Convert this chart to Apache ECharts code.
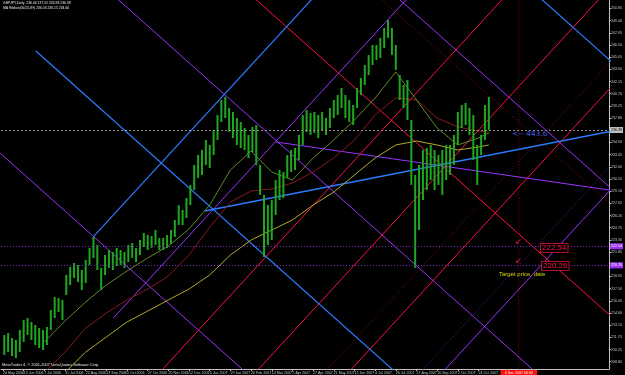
<!DOCTYPE html>
<html>
<head>
<meta charset="utf-8">
<title>GBPJPY Daily</title>
<script src="https://cdn.jsdelivr.net/npm/echarts@6/dist/echarts.min.js"></script>
<style>
html, body { margin: 0; padding: 0; background: #000; }
#chart { width: 625px; height: 375px; }
</style>
</head>
<body>
<div id="chart"></div>
<script>
// price bars, one entry per 3 daily bars (slot k sits on bar 3k+1)
var barHigh = [211.98, 212.22, 211.62, 211.38, 212.57, 213.76, 214.00, 213.53, 213.17, 212.81, 212.57, 212.93,
  214.95, 216.50, 216.38, 216.15, 219.12, 220.07, 220.55, 220.31, 219.72, 220.91, 222.34, 223.65,
  222.69, 219.96, 221.50, 222.10, 221.86, 222.34, 222.10, 221.86, 222.69, 222.93, 222.34, 223.29,
  224.12, 223.88, 223.76, 224.48, 223.53, 223.53, 223.88, 224.48, 225.67, 227.45, 226.86, 228.29,
  229.84, 232.22, 233.41, 234.00, 235.19, 234.60, 236.38, 238.17, 239.96, 240.31, 239.00, 238.53,
  237.81, 237.34, 236.62, 235.79, 236.74, 236.98, 232.22, 228.65, 227.45, 228.05, 230.43, 231.62,
  231.38, 233.41, 234.00, 234.24, 235.79, 238.17, 238.76, 238.41, 238.53, 238.17, 238.53, 237.81,
  239.00, 239.96, 240.55, 241.38, 240.55, 239.96, 239.36, 241.38, 242.57, 244.12, 245.31, 246.50,
  246.50, 247.34, 248.53, 249.48, 248.53, 246.50, 242.93, 241.74, 242.34, 237.57, 231.03, 232.22,
  234.00, 234.24, 234.60, 234.00, 233.41, 234.00, 234.60, 234.60, 235.79, 238.53, 239.36, 239.60,
  239.00, 238.17, 234.60, 235.79, 239.36, 240.31];
var barLow = [209.60, 209.96, 209.48, 209.24, 209.96, 211.15, 211.98, 211.38, 210.79, 210.43, 210.19, 210.79,
  212.57, 214.00, 214.72, 213.76, 216.74, 217.93, 218.76, 218.29, 217.34, 218.17, 220.31, 221.15,
  219.72, 217.34, 219.12, 219.96, 219.72, 220.19, 220.31, 219.96, 220.67, 221.15, 220.67, 221.50,
  222.46, 222.10, 222.34, 222.69, 222.10, 222.10, 222.34, 222.81, 223.65, 225.07, 225.07, 225.91,
  227.45, 229.24, 230.67, 231.03, 232.22, 231.86, 233.41, 235.19, 237.34, 237.81, 236.15, 235.43,
  234.60, 234.24, 234.00, 233.05, 233.76, 232.22, 228.65, 221.26, 222.69, 223.29, 226.26, 228.05,
  228.29, 230.67, 231.38, 231.62, 232.81, 234.60, 236.15, 235.79, 236.03, 235.43, 236.38, 235.79,
  236.62, 237.81, 238.17, 239.00, 237.81, 237.34, 236.98, 239.00, 240.55, 241.74, 242.93, 244.12,
  244.72, 244.96, 246.15, 247.34, 245.31, 243.53, 239.96, 239.00, 237.57, 229.84, 219.96, 224.48,
  228.05, 229.24, 230.43, 229.24, 229.84, 228.65, 230.43, 231.03, 232.22, 234.60, 236.62, 236.98,
  235.79, 232.81, 229.84, 233.41, 235.19, 236.38];

// moving averages, read every 16 bars
var maBar = [0, 16, 32, 48, 64, 80, 96, 112, 128, 144, 160, 176, 192, 208, 224, 240, 256, 272, 288, 304, 320, 336, 352, 368, 376];
var maFast = [null, null, 211.14, 213.64, 215.91, 217.93, 219.60, 221.15, 222.57, 224.60, 227.45, 231.62, 233.88,
  231.38, 230.43, 233.05, 235.19, 237.57, 240.19, 243.29, 239.96, 236.62, 234.60, 235.43, 236.03];
var maMid = [null, null, 207.5, 209.95, 212.81, 214.60, 216.15, 217.45, 219.00, 221.50, 224.80, 227.81, 229.12,
  229.36, 230.07, 231.38, 233.05, 235.19, 238.17, 240.19, 239.96, 237.81, 236.74, 236.26, 236.15];
var maSlow = [null, null, null, 207.5, 209.95, 211.74, 213.53, 214.83, 216.15, 217.45, 219.12, 221.50, 223.29,
  224.48, 225.67, 227.45, 229.00, 231.03, 233.05, 234.60, 235.07, 234.60, 234.00, 234.36, 234.60];

// date labels every 16 bars
var dateLabels = ['24 May 2006', '15 Jun 2006', '7 Jul 2006', '31 Jul 2006', '22 Aug 2006', '13 Sep 2006',
  '5 Oct 2006', '27 Oct 2006', '20 Nov 2006', '12 Dec 2006', '5 Jan 2007', '29 Jan 2007', '20 Feb 2007',
  '14 Mar 2007', '5 Apr 2007', '27 Apr 2007', '21 May 2007', '12 Jun 2007', '4 Jul 2007', '26 Jul 2007',
  '17 Aug 2007', '10 Sep 2007', '2 Oct 2007', '24 Oct 2007'];
var priceTicks = [208.80, 210.25, 211.70, 213.15, 214.60, 216.05, 217.50, 218.95, 220.40, 221.85, 223.30,
  224.75, 226.20, 227.65, 229.10, 230.55, 232.00, 233.45, 234.90, 236.35, 237.80, 239.25, 240.70, 242.15,
  243.60, 245.05, 246.50, 247.95, 249.40, 250.85];

// gann grid lines, [bar, price] -> [bar, price]
var blueLines = [
  [[25.4, 245.79], [306.2, 207.22]],
  [[70.0, 223.69], [252.3, 254.17]],
  [[398.5, 254.46], [490.8, 241.78]]
];
var blueBase = [[156.2, 226.74], [490.8, 236.84]];
var purpleLines = [
  [[75.4, 253.80], [429.2, 205.23]],
  [[-9.2, 234.59], [198.5, 206.07]],
  [[290.8, 254.12], [490.8, 226.66]],
  [[85.4, 214.00], [321.5, 253.48]],
  [[336.9, 207.00], [490.8, 232.72]],
  [[211.5, 234.95], [490.8, 228.76]]
];
var redLines = [
  [[183.1, 253.66], [490.8, 211.42]],
  [[115.9, 206.62], [398.5, 253.96]],
  [[190.8, 206.74], [475.4, 254.31]],
  [[260.0, 206.29], [490.8, 244.86]]
];
var dotRedLines = [
  [[244.6, 206.81], [490.8, 247.95]],
  [[283.1, 253.26], [490.8, 224.75]],
  [[399.2, 253.00], [399.2, 206.00]]
];
var dotPurpleLines = [
  [[321.5, 207.29], [490.8, 235.57]]
];

var lastPrice = 236.38;
var targetPrices = [222.54, 220.26];
var targetBar = 399.2;
var targetDate = '6 Dec 2007 00:00';

var chart = echarts.init(document.getElementById('chart'), null, { renderer: 'canvas' });

var tiny = { fontFamily: 'Liberation Sans', fontSize: 3.6, color: '#c8c8c8' };

function segSeries(list, color, type, width) {
  return list.map(function (seg) {
    return {
      type: 'line', data: seg, symbol: 'none', silent: true, clip: true, z: 2,
      lineStyle: { color: color, width: width || 1, type: type }
    };
  });
}

function renderBar(params, api) {
  var x = api.value(0);
  var lo = api.coord([x, api.value(1)]);
  var hi = api.coord([x, api.value(2)]);
  return {
    type: 'rect',
    shape: { x: lo[0] - 1, y: hi[1], width: 2, height: Math.max(1, lo[1] - hi[1]) },
    style: { fill: '#1fa81f' }
  };
}

var barData = barHigh.map(function (h, k) { return [3 * k + 1, barLow[k], h]; });

function maData(arr) {
  return arr.map(function (v, j) { return [maBar[j], v]; });
}

var boxLabel = function (text, bg, fg) {
  return { position: 'end', formatter: text, backgroundColor: bg, color: fg,
    fontSize: 3.6, fontFamily: 'Liberation Sans', padding: [1, 1], distance: 1 };
};

var series = [];
series = series.concat(segSeries(dotRedLines, '#8b0a14', [1, 2]));
series = series.concat(segSeries(dotPurpleLines, '#5a1a9a', [1, 2]));
series.push({
  type: 'line', data: [], symbol: 'none', silent: true,
  markLine: {
    symbol: 'none', silent: true,
    data: [
      { yAxis: lastPrice, lineStyle: { color: '#8c8c8c', type: [2, 2], width: 1 },
        label: boxLabel(lastPrice.toFixed(2), '#c0c0c0', '#000') },
      { yAxis: targetPrices[0], lineStyle: { color: '#7a2ad0', type: [1, 2], width: 1 },
        label: boxLabel(targetPrices[0].toFixed(2), '#9a30f0', '#fff') },
      { yAxis: targetPrices[1], lineStyle: { color: '#7a2ad0', type: [1, 2], width: 1 },
        label: boxLabel(targetPrices[1].toFixed(2), '#9a30f0', '#fff') },
      { xAxis: targetBar, lineStyle: { color: 'rgba(0,0,0,0)', width: 0 },
        label: { position: 'start', formatter: targetDate, backgroundColor: '#ff1010', color: '#fff',
          fontSize: 3.6, fontFamily: 'Liberation Sans', padding: [1, 4], distance: 1 } }
    ]
  }
});
series.push({ type: 'line', data: maData(maSlow), symbol: 'none', silent: true, z: 3, lineStyle: { color: '#b0aa2a', width: 1 } });
series.push({ type: 'line', data: maData(maMid), symbol: 'none', silent: true, z: 3, lineStyle: { color: '#8a1818', width: 1 } });
series.push({ type: 'line', data: maData(maFast), symbol: 'none', silent: true, z: 3, lineStyle: { color: '#5d8a2a', width: 1 } });
series.push({ type: 'custom', data: barData, renderItem: renderBar, clip: true, silent: true, z: 4 });
series = series.concat(segSeries(purpleLines, '#9933ff', 'solid'));
series = series.concat(segSeries(redLines, '#ff1040', 'solid'));
series = series.concat(segSeries(blueLines, '#2a7cff', 'solid', 1.2));
series = series.concat(segSeries([blueBase], '#2a7cff', 'solid', 1.6));

var tickBars = dateLabels.map(function (d, n) { return n * 16; });

var option = {
  backgroundColor: '#000',
  animation: false,
  grid: { left: 0, top: 0, right: 13, bottom: 6 },
  xAxis: {
    type: 'value', min: -1.5, max: 469,
    axisLine: { show: true, onZero: false, lineStyle: { color: '#c0c0c0', width: 1 } },
    axisTick: { show: true, length: 2, lineStyle: { color: '#c0c0c0' }, customValues: tickBars },
    axisLabel: Object.assign({}, tiny, {
      align: 'left', margin: 1.5,
      customValues: tickBars,
      formatter: function (v) { return dateLabels[Math.round(v / 16)] || ''; }
    }),
    splitLine: { show: false }
  },
  yAxis: {
    type: 'value', position: 'right', min: 207.93, max: 251.86,
    axisLine: { show: true, onZero: false, lineStyle: { color: '#c0c0c0', width: 1 } },
    axisTick: { show: true, length: 2, lineStyle: { color: '#c0c0c0' }, customValues: priceTicks },
    axisLabel: Object.assign({}, tiny, {
      margin: 2, customValues: priceTicks,
      formatter: function (v) { return v.toFixed(2); }
    }),
    splitLine: { show: false }
  },
  graphic: [
    { type: 'text', left: 3, top: 2, style: { text: 'GBPJPY,Daily  236.64 237.52 235.98 236.38', fill: '#e8e8e8', fontSize: 3.4, fontFamily: 'Liberation Sans' } },
    { type: 'text', left: 3, top: 6.5, style: { text: 'MA Ribbon(34,55,89) 236.03 236.15 234.60', fill: '#e8e8e8', fontSize: 3.4, fontFamily: 'Liberation Sans' } },
    { type: 'text', left: 2, top: 363, style: { text: 'MetaTrader 4, \u00a9 2001-2007 MetaQuotes Software Corp.', fill: '#e8e8e8', fontSize: 3.9, fontFamily: 'Liberation Sans' } },
    { type: 'text', left: 512, top: 130, z: 20, style: { text: '<-- 443.6', fill: '#3a5cff', fontSize: 7.5, fontFamily: 'DejaVu Sans' } },
    { type: 'text', left: 515, top: 238, z: 20, style: { text: '\u2199', fill: '#ff1040', fontSize: 8, fontFamily: 'DejaVu Sans' } },
    { type: 'text', left: 515, top: 257, z: 20, style: { text: '\u2199', fill: '#ff1040', fontSize: 8, fontFamily: 'DejaVu Sans' } },
    { type: 'text', left: 540, top: 243, z: 20, style: { text: '222.54', fill: '#ff1040', fontSize: 8, fontFamily: 'Liberation Sans',
      borderColor: '#b01030', borderWidth: 1, padding: [0, 1], backgroundColor: '#000' } },
    { type: 'text', left: 541, top: 261, z: 20, style: { text: '220.26', fill: '#ff1040', fontSize: 8, fontFamily: 'Liberation Sans',
      borderColor: '#b01030', borderWidth: 1, padding: [0, 1], backgroundColor: '#000' } },
    { type: 'text', left: 499, top: 271, z: 20, style: { text: 'Target price, date', fill: '#d8d800', fontSize: 6, fontFamily: 'Liberation Sans' } }
  ],
  series: series
};

chart.setOption(option);
</script>
</body>
</html>
